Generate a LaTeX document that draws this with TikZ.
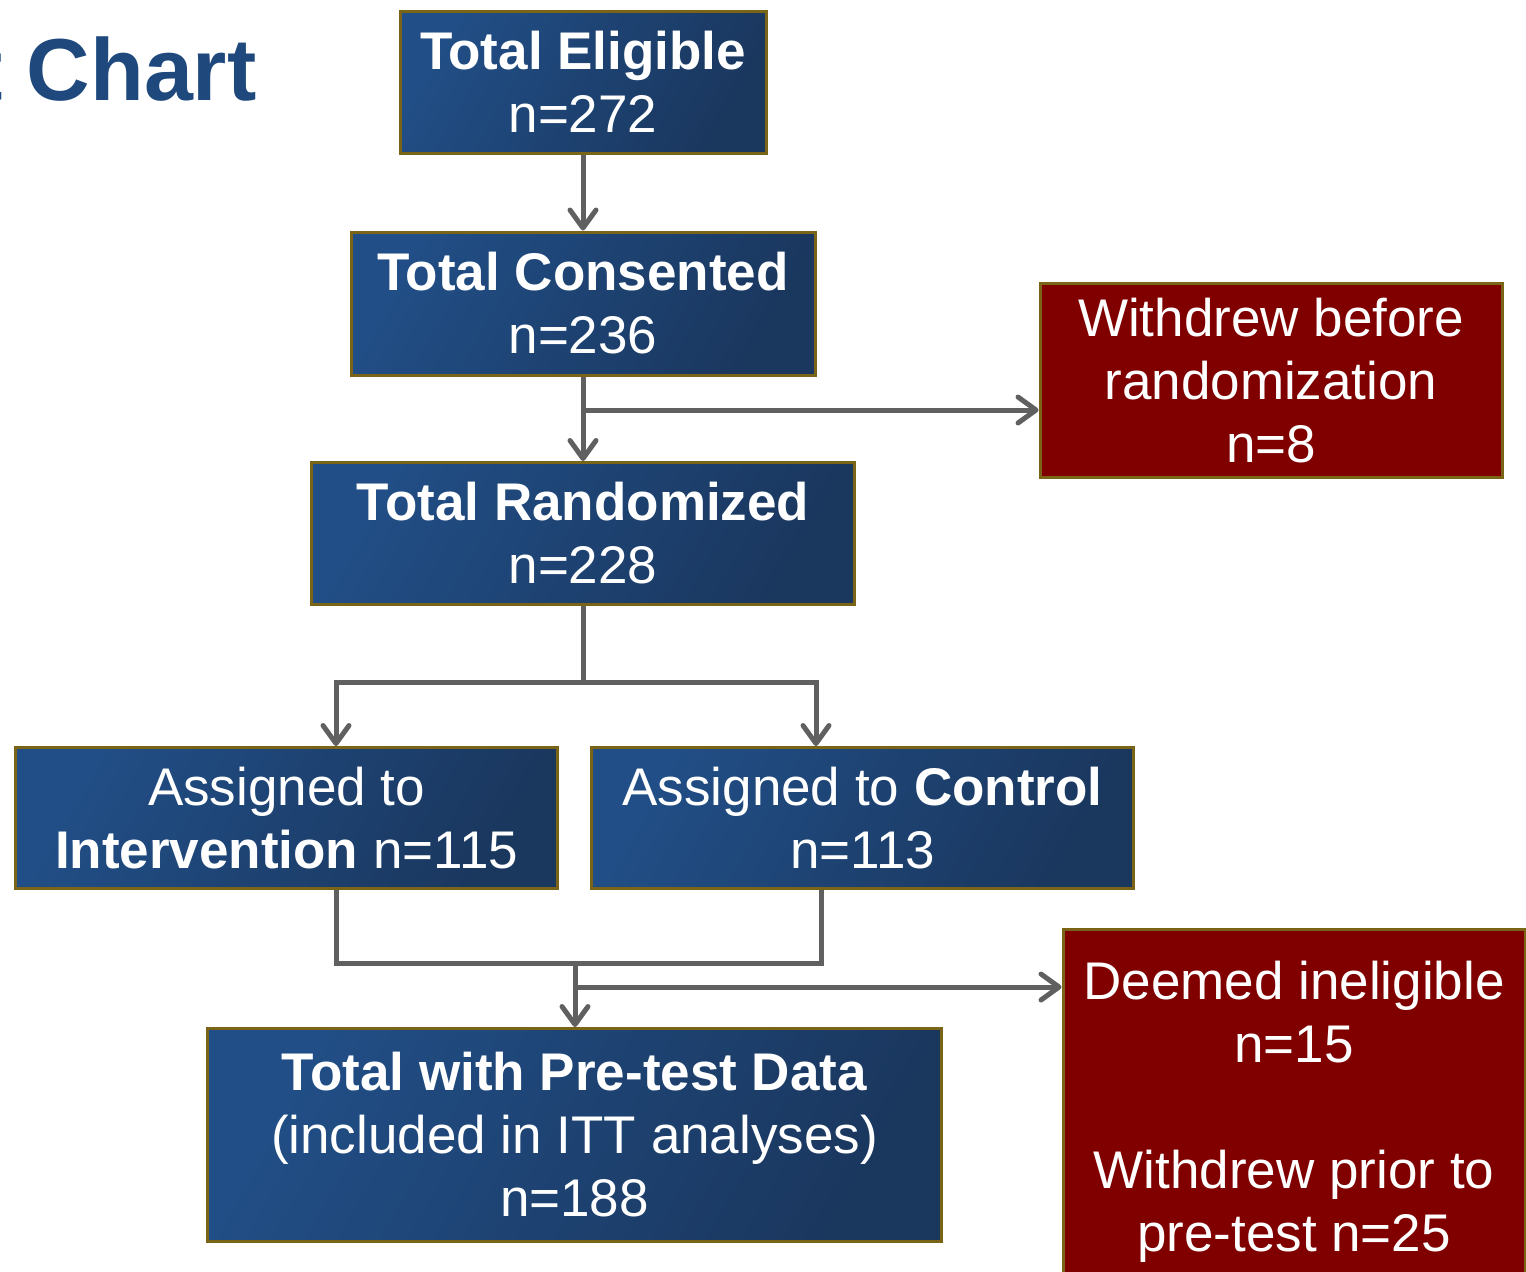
\documentclass[tikz,border=0pt]{standalone}
\usepackage{fontspec}
\setmainfont{Liberation Sans}
\usetikzlibrary{arrows.meta}
\definecolor{boxA}{RGB}{33,78,134}
\definecolor{boxB}{RGB}{26,55,94}
\definecolor{boxedge}{RGB}{122,100,24}
\definecolor{redfill}{RGB}{128,0,0}
\definecolor{conngray}{RGB}{96,96,96}
\definecolor{titleblue}{RGB}{31,73,125}
\tikzset{
  box/.style={draw=boxedge, line width=1.5pt, inner sep=0pt, align=center, text=white,
    font=\fontsize{26.5}{31.5}\selectfont},
  bluebox/.style={box, top color=boxA, bottom color=boxB, shading angle=60},
  redbox/.style={box, fill=redfill},
  conn/.style={draw=conngray, line width=2.5pt},
  arr/.style={conn, -{Straight Barb[length=9pt,width=13pt,round]}}
}
\begin{document}
\begin{tikzpicture}[x=0.5pt,y=-0.5pt]
\useasboundingbox (0,0) rectangle (1526,1271);
\clip (0,0) rectangle (1526,1271);
\node[anchor=base east, inner sep=0pt, text=titleblue, font=\fontsize{44}{52}\selectfont\bfseries] (title) at (257,100) {t Chart};

\node[bluebox, minimum width=183pt, minimum height=71pt] (elig) at (583,82) {\textbf{Total Eligible}\\n=272};
\node[bluebox, minimum width=232pt, minimum height=71.5pt] (cons) at (583,303.5) {\textbf{Total Consented}\\n=236};
\node[redbox, minimum width=231pt, minimum height=97pt] (with) at (1271,380.5) {Withdrew before\\randomization\\n=8};
\node[bluebox, minimum width=271.5pt, minimum height=71pt] (rand) at (583,533.5) {\textbf{Total Randomized}\\n=228};
\node[bluebox, minimum width=271pt, minimum height=70.5pt] (inter) at (286.5,818) {Assigned to\\\textbf{Intervention} n=115};
\node[bluebox, minimum width=271pt, minimum height=70.5pt] (ctrl) at (862.5,818) {Assigned to \textbf{Control}\\n=113};
\node[bluebox, minimum width=367pt, minimum height=106.5pt] (pre) at (574.5,1135) {\textbf{Total with Pre-test Data}\\(included in ITT analyses)\\n=188};
\node[redbox, minimum width=231pt, minimum height=183pt] (deem) at (1294,1112) {Deemed ineligible\\n=15\\[31.5pt]Withdrew prior to\\pre-test n=25};

\draw[arr] (elig.south) -- (cons.north);
\draw[arr] (cons.south) -- (rand.north);
\coordinate (j1) at (583,410);
\draw[arr] (j1) -- (j1 -| with.west);

\coordinate (j2) at (583,682);
\coordinate (ia) at (336,682);
\coordinate (ca) at (816,682);
\draw[conn] (rand.south) -- (j2);
\draw[arr] (j2) -| (ia |- inter.north);
\draw[arr] (j2) -| (ca |- ctrl.north);

\coordinate (ib) at (336,963);
\coordinate (cb) at (821,963);
\draw[conn] (ib |- inter.south) -- (ib) -- (cb) -- (cb |- ctrl.south);
\coordinate (j3) at (575,963);
\draw[arr] (j3) -- (j3 |- pre.north);
\coordinate (j4) at (575,987);
\draw[arr] (j4) -- (j4 -| deem.west);
\end{tikzpicture}
\end{document}
